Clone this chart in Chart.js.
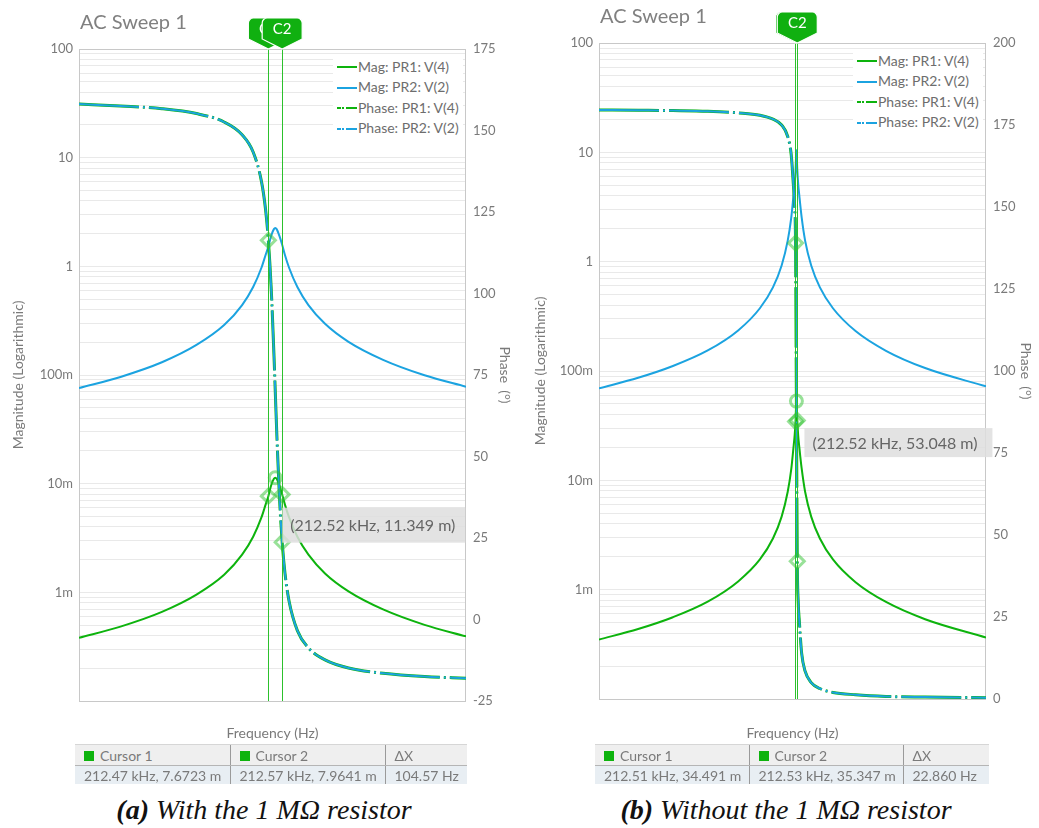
<!DOCTYPE html>
<html>
<head>
<meta charset="utf-8">
<script src="https://cdn.jsdelivr.net/npm/chart.js@4.4.1/dist/chart.umd.min.js"></script>
<style>
  body { margin: 0; background: #fff; width: 1039px; height: 828px; position: relative; overflow: hidden; font-family: Lato, "Open Sans", sans-serif; }
  canvas { position: absolute; top: 0; }
  .ttl { position: absolute; font-size: 20px; color: #808080; }
  .legend { position: absolute; background: #fff; font-size: 14px; color: #6d6d6d; line-height: 20.4px; padding: 2px 4px 2px 4px; z-index: 2; }
  .legend div { white-space: nowrap; }
  .smp { display: inline-block; width: 20px; height: 2px; vertical-align: middle; margin-right: 1px; position: relative; top: -1px; }
  table.cur { position: absolute; border-collapse: collapse; font-size: 14px; color: #7a7a7a; table-layout: fixed; }
  table.cur td { padding: 0 0 0 9px; white-space: nowrap; overflow: hidden; border-left: 1px solid #9a9a9a; }
  table.cur td:first-child { border-left: none; }
  table.cur tr.h td { background: #efefef; height: 20px; border-top: 1px solid #d6d6d6; border-bottom: 1px solid #b5b5b5; }
  table.cur tr.v td { background: #e8eef3; height: 18px; }
  .sq { display: inline-block; width: 10px; height: 10px; background: #0db30d; margin-right: 6px; }
  .cap { position: absolute; top: 794px; font-family: "Liberation Serif", "DejaVu Serif", serif; font-style: italic; font-size: 28px; color: #111; white-space: nowrap; transform: translateX(-50%); }
</style>
</head>
<body>
<canvas id="chartA" width="520" height="745" style="left:0"></canvas>
<canvas id="chartB" width="519" height="745" style="left:520px"></canvas>

<div class="ttl" style="left:80px;top:9px">AC Sweep 1</div>
<div class="ttl" style="left:600px;top:3px">AC Sweep 1</div>

<div class="legend" style="left:333px;top:55px">
  <div><span class="smp" style="background:#0db30d"></span>Mag: PR1: V(4)</div>
  <div><span class="smp" style="background:#1ba3e0"></span>Mag: PR2: V(2)</div>
  <div><span class="smp" style="background:linear-gradient(to right,#0db30d 0 4px,transparent 4px 5.5px,#0db30d 5.5px 7.5px,transparent 7.5px 9px,#0db30d 9px)"></span>Phase: PR1: V(4)</div>
  <div><span class="smp" style="background:linear-gradient(to right,#1ba3e0 0 4px,transparent 4px 5.5px,#1ba3e0 5.5px 7.5px,transparent 7.5px 9px,#1ba3e0 9px)"></span>Phase: PR2: V(2)</div>
</div>
<div class="legend" style="left:853px;top:49px">
  <div><span class="smp" style="background:#0db30d"></span>Mag: PR1: V(4)</div>
  <div><span class="smp" style="background:#1ba3e0"></span>Mag: PR2: V(2)</div>
  <div><span class="smp" style="background:linear-gradient(to right,#0db30d 0 4px,transparent 4px 5.5px,#0db30d 5.5px 7.5px,transparent 7.5px 9px,#0db30d 9px)"></span>Phase: PR1: V(4)</div>
  <div><span class="smp" style="background:linear-gradient(to right,#1ba3e0 0 4px,transparent 4px 5.5px,#1ba3e0 5.5px 7.5px,transparent 7.5px 9px,#1ba3e0 9px)"></span>Phase: PR2: V(2)</div>
</div>

<table class="cur" style="left:75px;top:744px;width:392px">
  <colgroup><col style="width:155px"><col style="width:155px"><col style="width:82px"></colgroup>
  <tr class="h"><td><span class="sq"></span>Cursor 1</td><td><span class="sq"></span>Cursor 2</td><td>ΔX</td></tr>
  <tr class="v"><td>212.47 kHz, 7.6723 m</td><td>212.57 kHz, 7.9641 m</td><td>104.57 Hz</td></tr>
</table>
<table class="cur" style="left:595px;top:744px;width:394px">
  <colgroup><col style="width:154px"><col style="width:154px"><col style="width:86px"></colgroup>
  <tr class="h"><td><span class="sq"></span>Cursor 1</td><td><span class="sq"></span>Cursor 2</td><td>ΔX</td></tr>
  <tr class="v"><td>212.51 kHz, 34.491 m</td><td>212.53 kHz, 35.347 m</td><td>22.860 Hz</td></tr>
</table>

<div class="cap" style="left:264px"><b>(a)</b> With the 1 MΩ resistor</div>
<div class="cap" style="left:786px"><b>(b)</b> Without the 1 MΩ resistor</div>

<script>
// (a) with the 1 MΩ resistor -- frequency in kHz
const freqA = [211.10, 211.40, 211.70, 211.95, 212.15, 212.28, 212.36, 212.42, 212.45, 212.47, 212.49, 212.51, 212.52,
               212.53, 212.55, 212.57, 212.59, 212.62, 212.68, 212.76, 212.88, 213.05, 213.30, 213.60, 213.90];
const magPR1A = [0.000382, 0.000484, 0.000661, 0.000953, 0.00145, 0.00222, 0.00325, 0.00489, 0.00641, 0.0076723, 0.00961, 0.0111, 0.011349,
                 0.0111, 0.00961, 0.0079641, 0.00641, 0.00489, 0.00325, 0.00222, 0.00149, 0.00102, 0.000696, 0.000502, 0.000393];
const magPR2A = [0.0757, 0.096, 0.131, 0.189, 0.288, 0.44, 0.645, 0.97, 1.27, 1.52, 1.905, 2.20, 2.25,
                 2.20, 1.905, 1.58, 1.27, 0.97, 0.645, 0.44, 0.296, 0.202, 0.138, 0.0995, 0.078];
const phaseA = [158.1, 157.5, 156.7, 155.2, 152.6, 148.7, 143.4, 134.4, 125.7, 116.3, 102.1, 81.8, 70.0,
                58.2, 37.9, 23.7, 14.3, 5.6, -3.4, -8.7, -12.4, -14.9, -16.5, -17.5, -18.0];
const cursorFreqA = [212.47, 212.57];
const cursorMagA = [0.0076723, 0.0079641];
const cursorPhaseA = [116.3, 23.7];
const peakA = [212.52, 0.011349];

// (b) without the resistor
const freqB = [210.25, 210.70, 211.10, 211.50, 211.85, 212.10, 212.25, 212.35, 212.42, 212.46, 212.485, 212.50, 212.51, 212.52,
               212.53, 212.54, 212.555, 212.58, 212.62, 212.69, 212.79, 212.94, 213.20, 213.55, 214.00, 214.70];
const magPR1B = [0.000350, 0.000437, 0.000560, 0.000777, 0.00119, 0.00189, 0.00294, 0.00466, 0.00786, 0.0125, 0.0195, 0.026, 0.034491, 0.053048,
                 0.035347, 0.026, 0.0195, 0.0129, 0.00786, 0.00466, 0.00294, 0.00189, 0.00117, 0.000772, 0.000537, 0.000365];
const magPR2B = [0.0694, 0.0866, 0.111, 0.154, 0.235, 0.375, 0.582, 0.923, 1.558, 2.5, 3.9, 5.2, 6.85, 10.5,
                 7.0, 5.2, 3.9, 2.55, 1.558, 0.923, 0.582, 0.375, 0.232, 0.153, 0.1064, 0.0723];
const phaseB = [179.6, 179.5, 179.4, 179.2, 178.7, 178.0, 176.8, 175.0, 171.5, 166.0, 156.8, 150.0, 139.0, 90.0,
                42.0, 30.0, 23.2, 14.0, 8.5, 5.0, 3.2, 2.0, 1.3, 0.8, 0.6, 0.4];
const cursorFreqB = [212.51, 212.53];
const cursorMagB = [0.034491, 0.035347];
const cursorPhaseB = [139.0, 42.0];
const peakB = [212.52, 0.053048];

const magTicks = [100, 10, 1, 0.1, 0.01, 0.001];
const magTickLabels = ['100', '10', '1', '100m', '10m', '1m'];

const GREEN = '#0db30d', BLUE = '#1ba3e0', GRAY = '#7a7a7a';
const pts = (xs, ys) => xs.map((x, i) => ({ x, y: ys[i] }));

const cursorPlugin = {
  id: 'cursors',
  beforeDatasetsDraw(chart) {
    const { ctx, chartArea: a } = chart;
    ctx.save();
    ctx.strokeStyle = '#c8c8c8';
    ctx.lineWidth = 1;
    ctx.strokeRect(a.left + 0.5, a.top + 0.5, a.right - a.left - 1, a.bottom - a.top);
    ctx.restore();
  },
  afterDatasetsDraw(chart, args, o) {
    const { ctx, chartArea: a } = chart;
    ctx.save();
    ctx.strokeStyle = '#2cc12c';
    ctx.lineWidth = 1;
    o.cursors.forEach(f => {
      const px = Math.floor(chart.scales.x.getPixelForValue(f)) + 0.5;
      ctx.beginPath(); ctx.moveTo(px, a.top); ctx.lineTo(px, a.bottom); ctx.stroke();
    });
    ctx.restore();
  },
  afterDraw(chart, args, o) {
    const { ctx, chartArea: a } = chart;
    // cursor tags
    ['C1', 'C2'].forEach((lab, i) => {
      const x = chart.scales.x.getPixelForValue(o.cursors[i]);
      const tip = a.top, top = tip - 31, body = tip - 10, hw = 20;
      ctx.save();
      ctx.beginPath();
      ctx.moveTo(x - hw, body);
      ctx.lineTo(x - hw, top + 5);
      ctx.arcTo(x - hw, top, x - hw + 5, top, 5);
      ctx.lineTo(x + hw - 5, top);
      ctx.arcTo(x + hw, top, x + hw, top + 5, 5);
      ctx.lineTo(x + hw, body);
      ctx.lineTo(x, tip);
      ctx.closePath();
      ctx.fillStyle = '#10b010';
      ctx.fill();
      ctx.strokeStyle = '#ffffff';
      ctx.lineWidth = 1.2;
      ctx.stroke();
      ctx.fillStyle = '#ffffff';
      ctx.font = '15px Lato';
      ctx.textAlign = 'center';
      ctx.textBaseline = 'middle';
      ctx.fillText(lab, x, (top + body) / 2 + 1);
      ctx.restore();
    });
    // value box at the peak marker
    const px = chart.scales.x.getPixelForValue(o.peak[0]);
    const py = chart.scales.y.getPixelForValue(o.peak[1]);
    ctx.save();
    ctx.fillStyle = 'rgba(222,222,222,0.85)';
    ctx.fillRect(px + o.box[0], py + o.box[1], o.box[2], o.box[3]);
    ctx.fillStyle = '#666';
    ctx.font = '16px Lato';
    ctx.textBaseline = 'middle';
    ctx.fillText(o.label, px + o.box[0] + 8, py + o.box[1] + o.box[3] / 2 + 1);
    ctx.restore();
  }
};

function makeChart(id, d) {
  const line = (ys, color, width, axis, dash, order) => ({
    data: pts(d.freq, ys), borderColor: color, borderWidth: width, borderDash: dash,
    yAxisID: axis, pointRadius: 0, cubicInterpolationMode: 'monotone', fill: false, order
  });
  const marks = (xs, ys, axis, style, r) => ({
    data: pts(xs, ys), yAxisID: axis, showLine: false, pointStyle: style, pointRadius: r,
    pointBorderWidth: 3, pointBorderColor: 'rgba(50,195,50,0.5)', pointBackgroundColor: 'rgba(0,0,0,0)', order: 0
  });
  const titleFont = { family: 'Lato', size: 14 };
  return new Chart(document.getElementById(id), {
    type: 'line',
    data: {
      datasets: [
        marks(d.cursorFreq, d.cursorMag, 'y', 'rectRot', 7),
        marks(d.cursorFreq, d.cursorPhase, 'y2', 'rectRot', 7),
        marks([d.peak[0]], [d.peak[1]], 'y', 'circle', 6),
        line(d.phase, BLUE, 2, 'y2', [60, 4, 2, 4], 1),
        line(d.phase, GREEN, 3, 'y2', [60, 4, 2, 4], 2),
        line(d.magPR2, BLUE, 2, 'y', [], 3),
        line(d.magPR1, GREEN, 2, 'y', [], 4)
      ]
    },
    plugins: [cursorPlugin],
    options: {
      responsive: false,
      animation: false,
      devicePixelRatio: 1,
      layout: { padding: { top: d.top, left: 0, right: 0, bottom: 0 } },
      plugins: {
        legend: { display: false },
        tooltip: { enabled: false },
        cursors: { cursors: d.cursorFreq, peak: d.peak, label: d.label, box: d.box }
      },
      scales: {
        x: {
          type: 'linear', min: d.xmin, max: d.xmax,
          grid: { display: false }, border: { display: false },
          ticks: { display: false },
          title: { display: true, text: 'Frequency (Hz)', color: GRAY, font: titleFont, padding: { top: 0, bottom: 3 } },
          afterFit: s => { s.height = d.xh; }
        },
        y: {
          type: 'logarithmic', position: 'left', min: 0.0001, max: 100,
          grid: { color: '#e9e9e9', drawTicks: false }, border: { display: false },
          afterBuildTicks: s => {
            const t = [];
            for (let e = -4; e <= 1; e++) for (let m = 1; m <= 9; m++) t.push({ value: m * Math.pow(10, e) });
            t.push({ value: 100 });
            s.ticks = t;
          },
          ticks: {
            autoSkip: false, padding: 6, color: GRAY, font: { family: 'Lato', size: 13 },
            callback: v => {
              const i = magTicks.findIndex(t => Math.abs(t - v) / t < 1e-6);
              return i < 0 ? '' : magTickLabels[i];
            }
          },
          title: { display: true, text: 'Magnitude (Logarithmic)', color: GRAY, font: titleFont, padding: { top: d.ltp, bottom: 0 } },
          afterFit: s => { s.width = 79; }
        },
        y2: {
          type: 'linear', position: 'right', min: d.pmin, max: d.pmax,
          grid: { drawOnChartArea: false, drawTicks: false }, border: { display: false },
          ticks: { stepSize: 25, padding: 7, color: GRAY, font: { family: 'Lato', size: 13 } },
          title: { display: true, text: 'Phase  (°)', color: GRAY, font: titleFont, padding: { top: d.rtp, bottom: 0 } },
          afterFit: s => { s.width = d.rw; }
        }
      }
    }
  });
}

makeChart('chartA', {
  freq: freqA, magPR1: magPR1A, magPR2: magPR2A, phase: phaseA,
  cursorFreq: cursorFreqA, cursorMag: cursorMagA, cursorPhase: cursorPhaseA, peak: peakA,
  label: '(212.52 kHz, 11.349 m)', box: [7, 30, 183, 35],
  xmin: 211.1, xmax: 213.9, pmin: -25, pmax: 175,
  top: 49, xh: 44, rw: 54, ltp: 10, rtp: 7
});
makeChart('chartB', {
  freq: freqB, magPR1: magPR1B, magPR2: magPR2B, phase: phaseB,
  cursorFreq: cursorFreqB, cursorMag: cursorMagB, cursorPhase: cursorPhaseB, peak: peakB,
  label: '(212.52 kHz, 53.048 m)', box: [8, 27, 188, 29],
  xmin: 210.25, xmax: 214.7, pmin: 0, pmax: 200,
  top: 43, xh: 46, rw: 53, ltp: 12, rtp: 5
});
</script>
</body>
</html>
